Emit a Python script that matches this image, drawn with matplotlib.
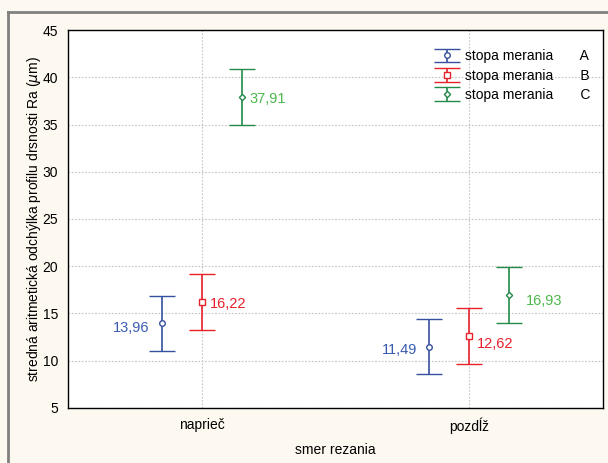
import numpy as np
import matplotlib
matplotlib.use("Agg")
import matplotlib.pyplot as plt
from matplotlib.lines import Line2D

plt.rcParams['font.family'] = ['Liberation Sans', 'DejaVu Sans']

# data
categories = ['naprieč', 'pozdĺž']
series = ['A', 'B', 'C']
means = {'A': [13.96, 11.49], 'B': [16.22, 12.62], 'C': [37.91, 16.93]}
upper = {'A': [16.88, 14.42], 'B': [19.18, 15.58], 'C': [40.9, 19.9]}
lower = {'A': [11.04, 8.56], 'B': [13.26, 9.66], 'C': [35.0, 13.96]}

colors = {'A': '#3650a0', 'B': '#e8202a', 'C': '#238a4a'}
text_colors = {'A': '#3a5bb0', 'B': '#e8202a', 'C': '#4cb84c'}
markers = {'A': 'o', 'B': 's', 'C': 'D'}
msize = {'A': 4, 'B': 4.2, 'C': 3.2}
offsets = {'A': -0.15, 'B': 0.0, 'C': 0.15}

fig = plt.figure(figsize=(6.08, 4.63), dpi=100, facecolor='#fdf9f0')
ax = fig.add_axes([0.1118, 0.1188, 0.8800, 0.8164])
ax.set_facecolor('white')

x = np.arange(len(categories))
for s in series:
    m = np.array(means[s])
    yerr = np.vstack([m - np.array(lower[s]), np.array(upper[s]) - m])
    ax.errorbar(x + offsets[s], m, yerr=yerr, fmt=markers[s], color=colors[s],
                mfc='white', mec=colors[s], ms=msize[s], mew=1, elinewidth=1.2,
                capsize=9.7, capthick=1.2, label='stopa merania       ' + s, zorder=3)

# value labels
lab_dx = {('A', 0): -0.045, ('B', 0): 0.03, ('C', 0): 0.03,
          ('A', 1): -0.045, ('B', 1): 0.03, ('C', 1): 0.06}
lab_dy = {('A', 0): -0.5, ('B', 0): -0.2, ('C', 0): -0.2,
          ('A', 1): -0.3, ('B', 1): -0.8, ('C', 1): -0.6}
for s in series:
    for i in range(len(categories)):
        xi = x[i] + offsets[s] + lab_dx[(s, i)]
        ha = 'right' if lab_dx[(s, i)] < 0 else 'left'
        ax.text(xi, means[s][i] + lab_dy[(s, i)], f"{means[s][i]:.2f}".replace('.', ','),
                color=text_colors[s], fontsize=10.5, ha=ha, va='center')

ax.set_xlim(-0.5, 1.5)
ax.set_ylim(5, 45)
ax.set_yticks(np.arange(5, 46, 5))
ax.set_xticks(x)
ax.set_xticklabels(categories)
ax.tick_params(axis='both', length=0, labelsize=10, pad=7)
ax.grid(True, linestyle=(0, (1.5, 1.5)), color='#c4c4c4', linewidth=0.8)
ax.set_axisbelow(True)
for sp in ax.spines.values():
    sp.set_linewidth(1)
    sp.set_color('black')

ax.set_xlabel('smer rezania', fontsize=10, labelpad=6)
ax.set_ylabel('stredná aritmetická odchýlka profilu drsnosti Ra ($\\mu$m)', fontsize=10, labelpad=0)

ax.legend(loc='upper right', bbox_to_anchor=(1.0, 0.982), frameon=False, fontsize=10,
          handlelength=1.8, labelspacing=0.38, handletextpad=0.4)

# gray frame around the figure
fig.add_artist(Line2D([8 / 608, 8 / 608], [0, 1 - 12 / 463], transform=fig.transFigure, color='#808080', lw=2))
fig.add_artist(Line2D([8 / 608, 1], [1 - 12 / 463, 1 - 12 / 463], transform=fig.transFigure, color='#808080', lw=2))

plt.savefig('out.png', dpi=100, facecolor=fig.get_facecolor())
